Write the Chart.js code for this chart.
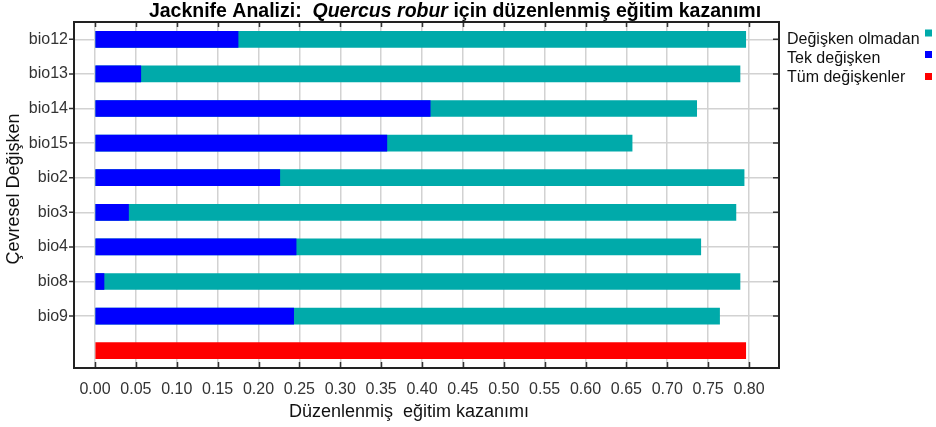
<!DOCTYPE html>
<html><head><meta charset="utf-8">
<script src="https://cdn.jsdelivr.net/npm/chart.js@4.4.1/dist/chart.umd.min.js"></script>
<style>html,body{margin:0;padding:0;background:#fff;} canvas{display:block;}</style>
</head><body>
<canvas id="c" width="936" height="427"></canvas>
<script>
const categories = ['bio12','bio13','bio14','bio15','bio2','bio3','bio4','bio8','bio9',''];
const withoutVariable = [0.796,0.789,0.736,0.657,0.794,0.784,0.741,0.789,0.764,null];
const onlyVariable = [0.175,0.056,0.410,0.357,0.226,0.041,0.246,0.011,0.243,null];
const allVariables = [null,null,null,null,null,null,null,null,null,0.796];
const xTicks = [0.00,0.05,0.10,0.15,0.20,0.25,0.30,0.35,0.40,0.45,0.50,0.55,0.60,0.65,0.70,0.75,0.80];
const seriesNames = ['Değişken olmadan','Tek değişken','Tüm değişkenler'];
const seriesColors = ['#00aaaa','#0000ff','#ff0000'];
const titleParts = [['Jacknife Analizi:  ','bold'],['Quercus robur','italic bold'],[' için düzenlenmiş eğitim kazanımı','bold']];
const xTitle = 'Düzenlenmiş  eğitim kazanımı';
const yTitle = 'Çevresel Değişken';

const FAM = '"Liberation Sans", Arial, sans-serif';

const decor = {
  id:'decor',
  afterDraw(chart){
    const c = chart.ctx, a = chart.chartArea;
    const xs = chart.scales.x, ys = chart.scales.y;
    c.save();
    // tick marks
    c.strokeStyle = '#333'; c.lineWidth = 1.5;
    c.beginPath();
    xTicks.forEach(v=>{
      const x = Math.round(xs.getPixelForValue(v))+0.5;
      c.moveTo(x, a.top); c.lineTo(x, a.top+5);
      c.moveTo(x, a.bottom); c.lineTo(x, a.bottom-6);
    });
    categories.forEach((lab,i)=>{
      if(!lab) return;
      const y = ys.getPixelForValue(i);
      c.moveTo(a.left-5, y); c.lineTo(a.left, y);
      c.moveTo(a.right-6, y); c.lineTo(a.right, y);
    });
    c.stroke();
    // frame
    c.strokeStyle = '#222'; c.lineWidth = 2;
    c.strokeRect(a.left, a.top, a.right-a.left, a.bottom-a.top);
    // title
    c.fillStyle = '#000'; c.textBaseline = 'alphabetic';
    let total = 0;
    const TF = ' 19.5px ';
    titleParts.forEach(p=>{ c.font = p[1]+TF+FAM; total += c.measureText(p[0]).width; });
    let x = 455 - total/2;
    titleParts.forEach(p=>{ c.font = p[1]+TF+FAM; c.textAlign='left'; c.fillText(p[0], x, 16.5); x += c.measureText(p[0]).width; });
    // legend
    c.font = '16px '+FAM;
    const baselines = [44, 63, 82];
    const sqTops = [29.5, 51, 73];
    seriesNames.forEach((n,i)=>{
      c.fillStyle = '#111'; c.textAlign='left';
      c.fillText(n, 787, baselines[i]);
      c.fillStyle = seriesColors[i];
      c.fillRect(925, sqTops[i], 7, 7);
    });
    // x axis title
    c.fillStyle = '#111'; c.font = '18px '+FAM; c.textAlign = 'center';
    c.fillText(xTitle, 409, 417);
    // y axis title
    c.translate(14, 189); c.rotate(-Math.PI/2);
    c.textBaseline = 'middle';
    c.fillText(yTitle, 0, 0);
    c.restore();
  }
};

new Chart(document.getElementById('c').getContext('2d'), {
  type:'bar',
  data:{ labels:categories, datasets:[
    {label:seriesNames[1], data:onlyVariable, backgroundColor:seriesColors[1], barThickness:16, grouped:false, order:0},
    {label:seriesNames[0], data:withoutVariable, backgroundColor:seriesColors[0], barThickness:16, grouped:false, order:1},
    {label:seriesNames[2], data:allVariables, backgroundColor:seriesColors[2], barThickness:16, grouped:false, order:2}
  ]},
  options:{
    indexAxis:'y', responsive:false, animation:false,
    layout:{padding:{left:0, top:22, right:157, bottom:0}},
    plugins:{legend:{display:false}, title:{display:false}, tooltip:{enabled:false}},
    scales:{
      x:{ type:'linear', min:-0.0257, max:0.8367, position:'bottom',
        afterBuildTicks: s => { s.ticks = xTicks.map(v=>({value:v})); },
        afterFit: s => { s.height = 59; },
        grid:{color:'#d2d2d2', lineWidth:1.5, drawTicks:false},
        border:{display:false},
        ticks:{padding:12, color:'#333', font:{family:FAM, size:16}, callback:v=>Number(v).toFixed(2), autoSkip:false, maxRotation:0, minRotation:0}
      },
      y:{ type:'category', afterFit: s => { s.width = 74; },
        grid:{offset:false, color:ctx => (categories[ctx.index] ? '#d2d2d2' : 'rgba(0,0,0,0)'), lineWidth:1.5, drawTicks:false},
        border:{display:false},
        ticks:{padding:6, color:'#333', font:{family:FAM, size:16}, autoSkip:false}
      }
    }
  },
  plugins:[decor]
});
</script>
</body></html>
